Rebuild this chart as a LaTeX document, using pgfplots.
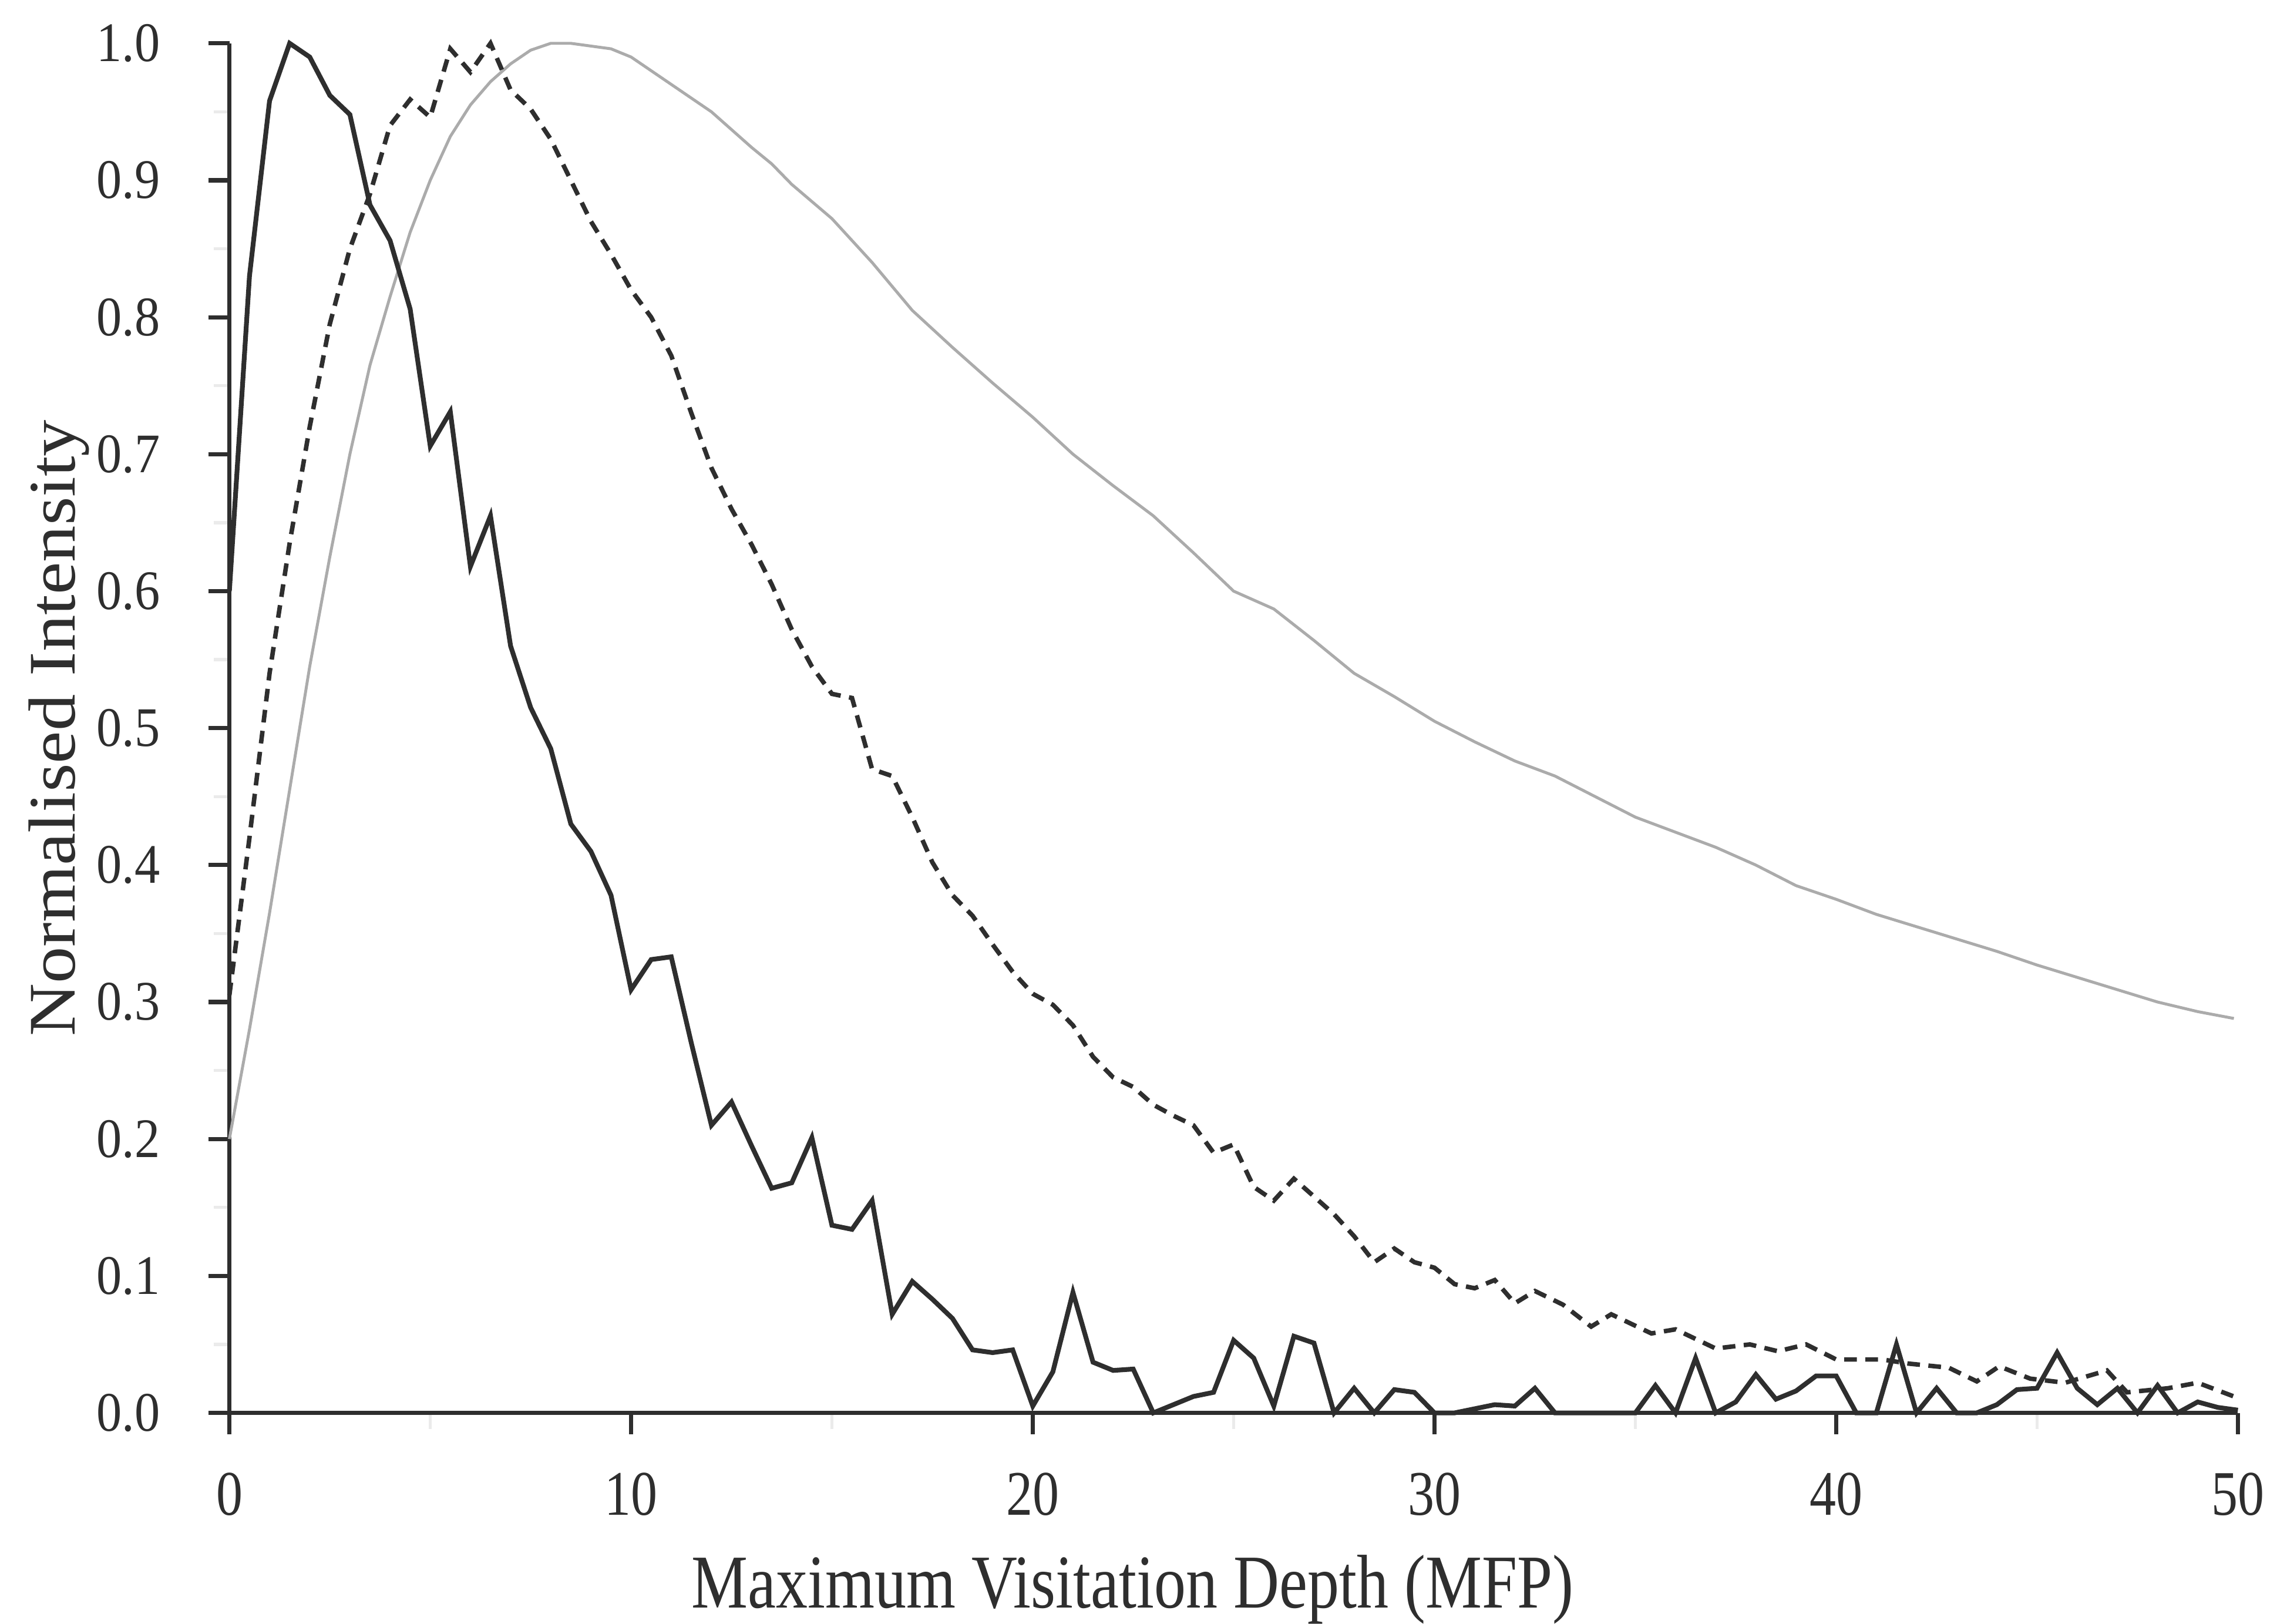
\documentclass[border=0pt]{standalone}
\usepackage{pgfplots}
\pgfplotsset{compat=1.18}
\usepackage{pgfplotstable}
\usepackage{graphicx}
\usepackage{fontspec}
\setmainfont{Liberation Serif}
\definecolor{ink}{HTML}{2E2E2E}
\definecolor{lightline}{HTML}{ABABAB}

\pgfplotstableread{
x y
0 0.60
0.5 0.83
1.0 0.958
1.5 1.00
2.0 0.99
2.5 0.962
3.0 0.948
3.5 0.882
4.0 0.856
4.5 0.806
5.0 0.706
5.5 0.731
6.0 0.618
6.5 0.655
7.0 0.56
7.5 0.515
8.0 0.485
8.5 0.43
9.0 0.41
9.5 0.378
10.0 0.309
10.5 0.331
11.0 0.333
11.5 0.27
12.0 0.21
12.5 0.227
13.0 0.195
13.5 0.164
14.0 0.168
14.5 0.201
15.0 0.137
15.5 0.134
16.0 0.155
16.5 0.072
17.0 0.096
17.5 0.083
18.0 0.069
18.5 0.046
19.0 0.044
19.5 0.046
20.0 0.005
20.5 0.03
21.0 0.088
21.5 0.037
22.0 0.031
22.5 0.032
23.0 0.0
23.5 0.006
24.0 0.012
24.5 0.015
25.0 0.053
25.5 0.04
26.0 0.005
26.5 0.056
27.0 0.051
27.5 0.0
28.0 0.018
28.5 0.0
29.0 0.017
29.5 0.015
30.0 0.0
30.5 0.0
31.0 0.003
31.5 0.006
32.0 0.005
32.5 0.018
33.0 0.0
33.5 0.0
34.0 0.0
34.5 0.0
35.0 0.0
35.5 0.02
36.0 0.0
36.5 0.04
37.0 0.0
37.5 0.008
38.0 0.028
38.5 0.01
39.0 0.016
39.5 0.027
40.0 0.027
40.5 0.0
41.0 0.0
41.5 0.05
42.0 0.0
42.5 0.018
43.0 0.0
43.5 0.0
44.0 0.006
44.5 0.017
45.0 0.018
45.5 0.044
46.0 0.018
46.5 0.006
47.0 0.018
47.5 0.0
48.0 0.02
48.5 0.0
49.0 0.008
49.5 0.004
50.0 0.002
}\blackdata

\pgfplotstableread{
x y
0 0.305
0.5 0.42
1.0 0.54
1.5 0.635
2.0 0.72
2.5 0.795
3.0 0.85
3.5 0.89
4.0 0.94
4.5 0.959
5.0 0.946
5.5 0.996
6.0 0.979
6.5 1.0
7.0 0.966
7.5 0.952
8.0 0.93
8.5 0.90
9.0 0.87
9.5 0.846
10.0 0.82
10.5 0.80
11.0 0.772
11.5 0.73
12.0 0.69
12.5 0.66
13.0 0.634
13.5 0.605
14.0 0.572
14.5 0.545
15.0 0.525
15.5 0.522
16.0 0.47
16.5 0.465
17.0 0.435
17.5 0.402
18.0 0.378
18.5 0.363
19.0 0.342
19.5 0.322
20.0 0.306
20.5 0.298
21.0 0.283
21.5 0.26
22.0 0.245
22.5 0.238
23.0 0.225
23.5 0.217
24.0 0.21
24.5 0.19
25.0 0.196
25.5 0.165
26.0 0.155
26.5 0.171
27.0 0.158
27.5 0.145
28.0 0.129
28.5 0.110
29.0 0.12
29.5 0.11
30.0 0.106
30.5 0.094
31.0 0.091
31.5 0.097
32.0 0.08
32.5 0.089
33.2 0.079
33.9 0.063
34.4 0.072
35.4 0.058
36.0 0.061
37.0 0.047
37.85 0.050
38.55 0.045
39.25 0.050
40.0 0.039
41.15 0.039
41.8 0.036
42.8 0.033
43.5 0.023
44.06 0.034
44.83 0.025
45.7 0.022
46.74 0.031
47.24 0.015
48.26 0.018
49.0 0.022
49.9 0.012
}\dasheddata

\pgfplotstableread{
x y
0 0.20
0.5 0.28
1.0 0.365
1.5 0.455
2.0 0.545
2.5 0.625
3.0 0.70
3.5 0.765
4.0 0.815
4.5 0.862
5.0 0.90
5.5 0.932
6.0 0.955
6.5 0.972
7.0 0.985
7.5 0.995
8.0 1.0
8.5 1.0
9.0 0.998
9.5 0.996
10.0 0.99
10.5 0.98
11.0 0.97
11.5 0.96
12.0 0.95
12.5 0.937
13.0 0.924
13.5 0.912
14.0 0.897
15.0 0.872
16.0 0.84
17.0 0.805
18.0 0.778
19.0 0.752
20.0 0.727
21.0 0.70
22.0 0.677
23.0 0.655
24.0 0.628
25.0 0.60
26.0 0.587
27.0 0.564
28.0 0.54
29.0 0.523
30.0 0.505
31.0 0.49
32.0 0.476
33.0 0.465
34.0 0.45
35.0 0.435
36.0 0.424
37.0 0.413
38.0 0.40
39.0 0.385
40.0 0.375
41.0 0.364
42.0 0.355
43.0 0.346
44.0 0.337
45.0 0.327
46.0 0.318
47.0 0.309
48.0 0.30
49.0 0.293
49.9 0.288
}\graydata

\begin{document}
\begin{tikzpicture}
\path[use as bounding box] (-43.4pt,-39.9pt) rectangle (387.4pt,267.3pt);
\begin{axis}[
  at={(0,0)}, anchor=south west,
  scale only axis, width=380pt, height=259.1pt,
  xmin=0, xmax=50, ymin=0, ymax=1,
  clip=false,
  axis x line=bottom, axis y line=left,
  axis line style={-, ink, line width=0.8pt},
  tick align=outside,
  major tick length=4pt,
  major tick style={ink, line width=0.8pt},
  xtick={0,10,20,30,40,50},
  ytick={0,0.1,0.2,0.3,0.4,0.5,0.6,0.7,0.8,0.9,1},
  minor x tick num=1, minor y tick num=1,
  minor tick length=3pt,
  minor tick style={black!8, line width=0.6pt},
  /pgf/number format/assume math mode=true,
  yticklabel={\scalebox{1}[1.1]{\pgfmathprintnumber[fixed,fixed zerofill,precision=1]{\tick}}},
  xticklabel={\scalebox{1}[1.2]{\pgfmathprintnumber{\tick}}},
  yticklabel style={font=\fontsize{9.6}{10}\selectfont, anchor=east, inner sep=0pt, xshift=-8.9pt, text=ink},
  xticklabel style={font=\fontsize{10}{11}\selectfont, anchor=base, inner sep=0pt, yshift=-15.3pt, text=ink},
  xlabel={\scalebox{1}[1.2]{Maximum Visitation Depth (MFP)}},
  ylabel={\scalebox{1.1}[1]{Normalised Intensity}},
  xlabel style={at={(axis description cs:0.4497,-0.1424)}, anchor=base, inner sep=0pt,
    font=\fontsize{12}{14}\selectfont, text=ink},
  ylabel style={at={(axis description cs:-0.0768,0.5)}, anchor=base, inner sep=0pt,
    font=\fontsize{12.6}{15}\selectfont, text=ink},
]
\addplot[lightline, line width=0.55pt] table[x=x, y=y] {\graydata};
\addplot[ink, line width=0.85pt, dash pattern=on 2.4pt off 1.6pt] table[x=x, y=y] {\dasheddata};
\addplot[ink, line width=0.9pt] table[x=x, y=y] {\blackdata};
\end{axis}
\end{tikzpicture}
\end{document}
